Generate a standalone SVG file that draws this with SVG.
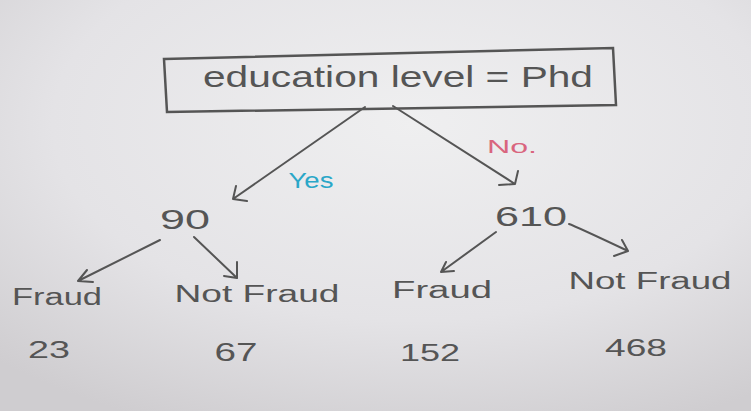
<svg xmlns="http://www.w3.org/2000/svg" width="751" height="411" viewBox="0 0 751 411">
<defs>
<radialGradient id="bg" cx="0.55" cy="0.3" r="0.8">
<stop offset="0" stop-color="#efeff0"/>
<stop offset="0.6" stop-color="#e4e3e6"/>
<stop offset="1" stop-color="#cfcdd0"/>
</radialGradient>
</defs>
<style>
.ink{font-family:"Liberation Sans","DejaVu Sans",sans-serif;fill:#555;text-anchor:middle}
.ln{fill:none;stroke:#555;stroke-width:2;stroke-linecap:round}
</style>
<rect width="751" height="411" fill="url(#bg)"/>
<g id="root">
<polygon points="164,59 613,48 616,105 167,112" fill="none" stroke="#555" stroke-width="2.5"/>
<text class="ink" x="398" y="87" font-size="30" textLength="390" lengthAdjust="spacingAndGlyphs">education level = Phd</text>
</g>
<g id="connectors">
<path class="ln" d="M365,107 L233,199 M233,199 L236,186 M233,199 L247,201"/>
<path class="ln" d="M393,106 L515,184 M515,184 L518,171 M515,184 L499,185"/>
<path class="ln" d="M160,240 L78,281 M78,281 L87,270 M78,281 L93,282"/>
<path class="ln" d="M194,237 L237,278 M237,278 L237,262 M237,278 L224,276"/>
<path class="ln" d="M496,232 L441,272 M441,272 L446,262 M441,272 L454,271"/>
<path class="ln" d="M569,224 Q575,226 628,251 M628,251 L622,240 M628,251 L614,256"/>
<text x="311" y="188" font-family="Liberation Sans,sans-serif" font-size="22" fill="#2aa7c8" text-anchor="middle" textLength="45" lengthAdjust="spacingAndGlyphs">Yes</text>
<text x="512" y="153" font-family="Liberation Sans,sans-serif" font-size="18" fill="#d9657e" text-anchor="middle" textLength="50" lengthAdjust="spacingAndGlyphs">No.</text>
</g>
<g id="n90"><text class="ink" x="185" y="229" font-size="28" textLength="50" lengthAdjust="spacingAndGlyphs">90</text></g>
<g id="n610"><text class="ink" x="531" y="226" font-size="28" textLength="72" lengthAdjust="spacingAndGlyphs">610</text></g>
<g id="fraud1"><text class="ink" x="57" y="305" font-size="23" textLength="90" lengthAdjust="spacingAndGlyphs">Fraud</text><text class="ink" x="49" y="358" font-size="23" textLength="42" lengthAdjust="spacingAndGlyphs">23</text></g>
<g id="notfraud1"><text class="ink" x="257" y="302" font-size="23" textLength="165" lengthAdjust="spacingAndGlyphs">Not Fraud</text><text class="ink" x="236" y="361" font-size="25" textLength="43" lengthAdjust="spacingAndGlyphs">67</text></g>
<g id="fraud2"><text class="ink" x="442" y="298" font-size="23" textLength="100" lengthAdjust="spacingAndGlyphs">Fraud</text><text class="ink" x="430" y="361" font-size="23" textLength="60" lengthAdjust="spacingAndGlyphs">152</text></g>
<g id="notfraud2"><text class="ink" x="650" y="289" font-size="23" textLength="163" lengthAdjust="spacingAndGlyphs">Not Fraud</text><text class="ink" x="636" y="356" font-size="23" textLength="62" lengthAdjust="spacingAndGlyphs">468</text></g>
</svg>
